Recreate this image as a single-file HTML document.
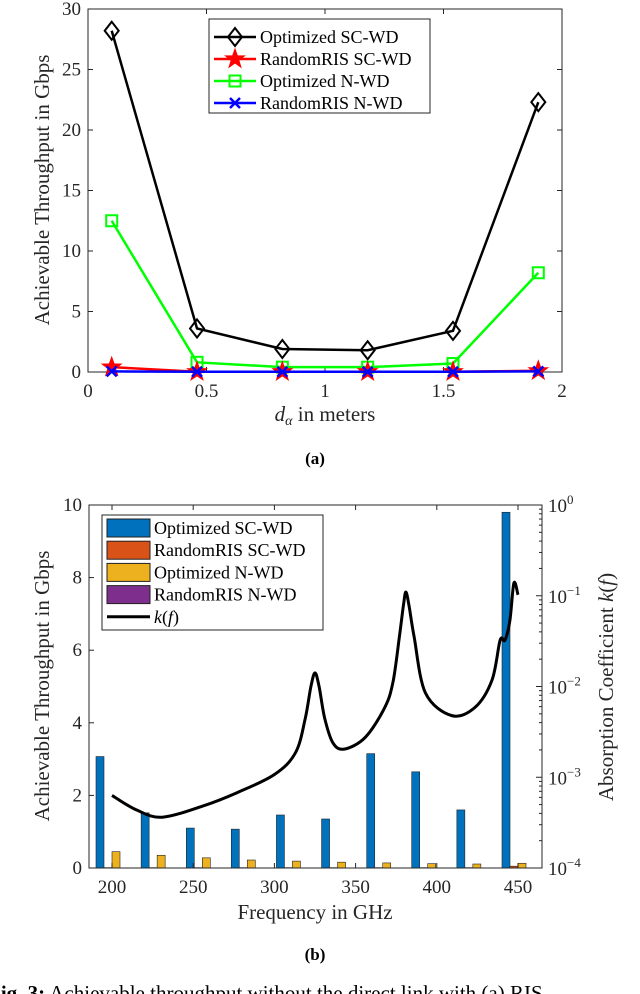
<!DOCTYPE html>
<html><head><meta charset="utf-8"><style>
body{margin:0;background:#fff;width:640px;height:994px;overflow:hidden}
svg{display:block;font-family:"Liberation Serif",serif}
</style></head><body>
<svg id="s" width="640" height="994" viewBox="0 0 640 994">
<g id="ca"></g>
<g id="cb"></g>
<text x="315" y="464" font-size="17" font-weight="bold" text-anchor="middle">(a)</text>
<text x="315" y="960" font-size="17" font-weight="bold" text-anchor="middle">(b)</text>
<text x="-12" y="1000" font-size="21"><tspan font-weight="bold">Fig. 3:</tspan> Achievable throughput without the direct link with (a) RIS</text>
</svg>
<script>
// Chart A data
const aX=[0.1,0.46,0.82,1.18,1.54,1.9];
const aOptSC=[28.2,3.6,1.9,1.8,3.4,22.3];
const aRandSC=[0.4,0.02,0.02,0.02,0.02,0.1];
const aOptN=[12.5,0.8,0.4,0.4,0.7,8.2];
const aRandN=[0.05,0.02,0.02,0.02,0.02,0.05];
const aXTicks=[0,0.5,1,1.5,2];
const aYTicks=[0,5,10,15,20,25,30];
// Chart B data
const bFreq=[200,227.8,255.6,283.3,311.1,338.9,366.7,394.4,422.2,450];
const bOptSC=[3.07,1.52,1.1,1.07,1.46,1.35,3.15,2.65,1.6,9.8];
const bRandSC=[0.01,0.01,0.01,0.01,0.01,0.01,0.01,0.01,0.01,0.05];
const bOptN=[0.45,0.35,0.28,0.22,0.19,0.16,0.14,0.12,0.11,0.13];
const bRandN=[0,0,0,0,0,0,0,0,0,0];
const kF=[200,215,231,257,277,300,313,319,322.5,325,327.5,331,336,343,356,368,373,377,379.5,381,383,386,393,409,423.5,434,439,442,445,447.5,450];
const kLog=[-3.2,-3.36,-3.44,-3.31,-3.17,-2.97,-2.73,-2.35,-2.0,-1.85,-2.0,-2.35,-2.62,-2.69,-2.56,-2.23,-1.95,-1.45,-1.1,-0.96,-1.12,-1.45,-2.07,-2.32,-2.23,-1.93,-1.49,-1.49,-1.27,-0.86,-0.99];
const bXTicks=[200,250,300,350,400,450];
const bYTicks=[0,2,4,6,8,10];
const bRTicks=[-4,-3,-2,-1,0];

const NS="http://www.w3.org/2000/svg";
function mk(p,t,a,txt){const e=document.createElementNS(NS,t);for(const k in a)e.setAttribute(k,a[k]);if(txt!==undefined)e.textContent=txt;p.appendChild(e);return e;}

// ---- Chart A ----
const A=document.getElementById('ca');
const aL=88,aR=562,aT=9,aB=372;
const ax=v=>aL+(v-0)/2*(aR-aL), ay=v=>aB-v/30*(aB-aT);
let e=mk(A,'rect',{x:aL,y:aT,width:aR-aL,height:aB-aT,fill:'none',stroke:'#262626','stroke-width':1});

aXTicks.forEach(t=>{const x=ax(t);mk(A,'line',{x1:x,x2:x,y1:aB,y2:aB-5,stroke:'#262626'});mk(A,'line',{x1:x,x2:x,y1:aT,y2:aT+5,stroke:'#262626'});
 e=mk(A,'text',{x:x,y:aB+25,'font-size':19,'text-anchor':'middle',fill:'#262626'},String(t));});
aYTicks.forEach(t=>{const y=ay(t);mk(A,'line',{x1:aL,x2:aL+5,y1:y,y2:y,stroke:'#262626'});mk(A,'line',{x1:aR,x2:aR-5,y1:y,y2:y,stroke:'#262626'});
 e=mk(A,'text',{x:aL-7,y:y+6,'font-size':19,'text-anchor':'end',fill:'#262626'},String(t));});
e=mk(A,'text',{x:0,y:0,'font-size':21,'text-anchor':'middle',fill:'#262626',transform:'translate(49,190) rotate(-90)'},'Achievable Throughput in Gbps');

e=mk(A,'text',{x:325,y:421,'font-size':21,'text-anchor':'middle',fill:'#262626'});
e.innerHTML='<tspan font-style="italic">d</tspan><tspan font-style="italic" font-size="14" dy="4">α</tspan><tspan dy="-4"> in meters</tspan>';

function marker(g,type,x,y,c){
 if(type==='d')mk(g,'polygon',{points:`${x},${y-9} ${x+7},${y} ${x},${y+9} ${x-7},${y}`,fill:'none',stroke:c,'stroke-width':2});
 else if(type==='s')mk(g,'rect',{x:x-5.5,y:y-5.5,width:11,height:11,fill:'none',stroke:c,'stroke-width':2});
 else if(type==='x'){mk(g,'path',{d:`M${x-5},${y-5}L${x+5},${y+5}M${x+5},${y-5}L${x-5},${y+5}`,stroke:c,'stroke-width':2.5});}
 else if(type==='p'){let p=[];for(let i=0;i<10;i++){const r=i%2?4:10,a=-Math.PI/2+i*Math.PI/5;p.push((x+r*Math.cos(a)).toFixed(1)+','+(y+r*Math.sin(a)).toFixed(1));}mk(g,'polygon',{points:p.join(' '),fill:c,stroke:c});}
}
const series=[[aOptSC,'#000','d','series-optimized-sc-wd'],[aOptN,'#00ff00','s','series-optimized-n-wd'],[aRandSC,'#ff0000','p','series-randomris-sc-wd'],[aRandN,'#0000ff','x','series-randomris-n-wd']];
series.forEach(s=>{const g=mk(A,'g',{});
 mk(g,'polyline',{points:aX.map((v,i)=>ax(v)+','+ay(s[0][i])).join(' '),fill:'none',stroke:s[1],'stroke-width':2.5});
 aX.forEach((v,i)=>marker(g,s[2],ax(v),ay(s[0][i]),s[1]));});
const LA=mk(A,'g',{});
mk(LA,'rect',{x:209,y:19,width:221,height:94,fill:'#fff',stroke:'#262626'});
[['Optimized SC-WD','#000','d'],['RandomRIS SC-WD','#ff0000','p'],['Optimized N-WD','#00ff00','s'],['RandomRIS N-WD','#0000ff','x']].forEach((l,i)=>{
 const y=37+i*22;const g=mk(LA,'g',{});
 mk(g,'line',{x1:214,x2:256,y1:y,y2:y,stroke:l[1],'stroke-width':2.5});marker(g,l[2],235,y,l[1]);
 mk(g,'text',{x:260,y:y+6,'font-size':18,fill:'#000'},l[0]);});

// ---- Chart B ----
const B=document.getElementById('cb');
const bL=89,bR=542,bT=505,bB=868;
const bx=f=>112+(f-200)*1.624, by=v=>bB-v/10*(bB-bT), bk=l=>bB-(l+4)/4*(bB-bT);
const bars=[[bOptSC,'#0072BD',-12,'bar-optimized-sc-wd'],[bRandSC,'#D95319',-4,'bar-randomris-sc-wd'],[bOptN,'#EDB120',4,'bar-optimized-n-wd'],[bRandN,'#7E2F8E',12,'bar-randomris-n-wd']];
bars.forEach(s=>{bFreq.forEach((f,i)=>{const v=s[0][i];if(v<=0)return;
 e=mk(B,'rect',{x:bx(f)+s[2]-4,y:by(v),width:8,height:bB-by(v),fill:s[1],stroke:'#222','stroke-width':0.6});
 });});
// smooth curve (Catmull-Rom) through data points
const kp=kF.map((f,i)=>[bx(f),bk(kLog[i])]);
let d='M'+kp[0][0].toFixed(1)+','+kp[0][1].toFixed(1);
for(let i=0;i<kp.length-1;i++){const p0=kp[Math.max(0,i-1)],p1=kp[i],p2=kp[i+1],p3=kp[Math.min(kp.length-1,i+2)];
 const c1=[p1[0]+(p2[0]-p0[0])/6,p1[1]+(p2[1]-p0[1])/6],c2=[p2[0]-(p3[0]-p1[0])/6,p2[1]-(p3[1]-p1[1])/6];
 d+=` C${c1[0].toFixed(1)},${c1[1].toFixed(1)} ${c2[0].toFixed(1)},${c2[1].toFixed(1)} ${p2[0].toFixed(1)},${p2[1].toFixed(1)}`;}
e=mk(B,'path',{d:d,fill:'none',stroke:'#000','stroke-width':3,'stroke-linejoin':'round'});

e=mk(B,'rect',{x:bL,y:bT,width:bR-bL,height:bB-bT,fill:'none',stroke:'#262626'});

bXTicks.forEach(t=>{const x=bx(t);mk(B,'line',{x1:x,x2:x,y1:bB,y2:bB-5,stroke:'#262626'});mk(B,'line',{x1:x,x2:x,y1:bT,y2:bT+5,stroke:'#262626'});
 e=mk(B,'text',{x:x,y:bB+25,'font-size':19,'text-anchor':'middle',fill:'#262626'},String(t));});
bYTicks.forEach(t=>{const y=by(t);mk(B,'line',{x1:bL,x2:bL+5,y1:y,y2:y,stroke:'#262626'});
 e=mk(B,'text',{x:bL-7,y:y+6,'font-size':19,'text-anchor':'end',fill:'#262626'},String(t));});
bRTicks.forEach(t=>{const y=bk(t);mk(B,'line',{x1:bR,x2:bR-6,y1:y,y2:y,stroke:'#262626'});
 if(t<0)for(let m=2;m<10;m++){const yy=bk(t+Math.log10(m));mk(B,'line',{x1:bR,x2:bR-3,y1:yy,y2:yy,stroke:'#262626'});}
 e=mk(B,'text',{x:bR+6,y:y+7,'font-size':19,fill:'#262626'});e.innerHTML='10<tspan font-size="13" dy="-8">'+(t<0?'−'+(-t):'0')+'</tspan>';
 });
e=mk(B,'text',{x:0,y:0,'font-size':21,'text-anchor':'middle',fill:'#262626',transform:'translate(49,686) rotate(-90)'},'Achievable Throughput in Gbps');

e=mk(B,'text',{x:0,y:0,'font-size':21,'text-anchor':'middle',fill:'#262626',transform:'translate(613,687) rotate(-90)'});
e.innerHTML='Absorption Coefficient <tspan font-style="italic">k</tspan>(<tspan font-style="italic">f</tspan>)';

e=mk(B,'text',{x:315,y:919,'font-size':21,'text-anchor':'middle',fill:'#262626'},'Frequency in GHz');

const LB=mk(B,'g',{});
mk(LB,'rect',{x:102,y:515,width:221,height:115,fill:'#fff',stroke:'#262626'});
[['Optimized SC-WD','#0072BD'],['RandomRIS SC-WD','#D95319'],['Optimized N-WD','#EDB120'],['RandomRIS N-WD','#7E2F8E'],['k(f)',null]].forEach((l,i)=>{
 const y=528+i*22.2;const g=mk(LB,'g',{});
 if(l[1])mk(g,'rect',{x:107,y:y-9,width:43,height:18,fill:l[1],stroke:'#222'});else mk(g,'line',{x1:107,x2:150,y1:y,y2:y,stroke:'#000','stroke-width':3});
 const t=mk(g,'text',{x:154,y:y+6,'font-size':18,fill:'#000'});
 if(l[1])t.textContent=l[0];else t.innerHTML='<tspan font-style="italic">k</tspan>(<tspan font-style="italic">f</tspan>)';});
</script>
</body></html>
